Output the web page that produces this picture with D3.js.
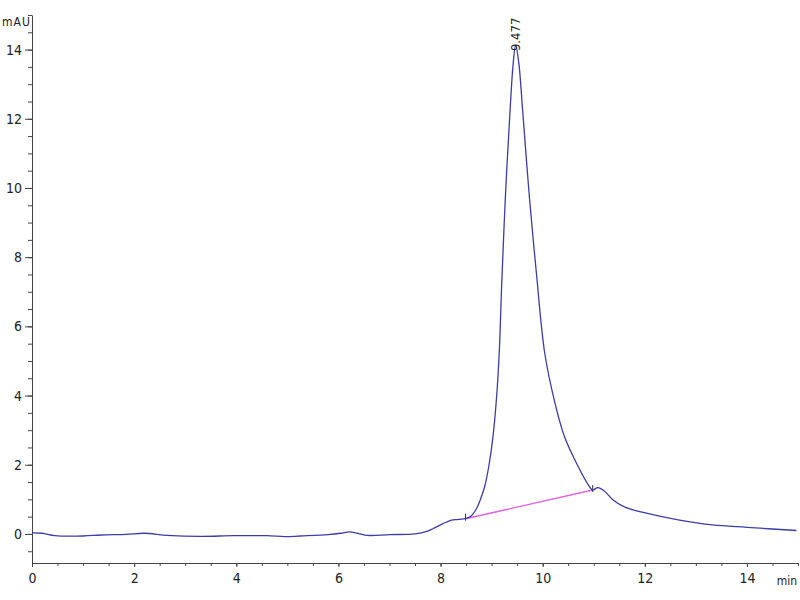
<!DOCTYPE html>
<html>
<head>
<meta charset="utf-8">
<script src="https://cdn.jsdelivr.net/npm/d3@7"></script>
<style>
  body { margin: 0; background: #fff; }
  svg { display: block; }
  .axis text { font-family: "Liberation Sans Narrow", "DejaVu Sans Condensed", "Arial Narrow", sans-serif; font-size: 14px; fill: #222; }
  .axis path, .axis line { stroke: #444; }
</style>
</head>
<body>
<div id="chart"></div>
<script>
// signal trace (min, mAU)
const times = [0, 0.2, 0.45, 1.0, 1.35, 1.85, 2.2, 2.65, 3.3, 3.95, 4.6, 4.95, 5.25, 5.8, 6.05, 6.23, 6.55, 7.0, 7.5,
  7.7, 7.85, 8.05, 8.2, 8.35, 8.5, 8.6, 8.7, 8.77, 8.87, 8.95, 9.03, 9.1, 9.15, 9.2, 9.27, 9.36, 9.42, 9.47,
  9.53, 9.61, 9.74, 9.88, 10.04, 10.24, 10.43, 10.66, 10.92, 10.98, 11.08, 11.2, 11.38, 11.6, 12.03, 12.68,
  13.33, 14.0, 14.97];
const values = [0.03, 0.02, -0.05, -0.06, -0.03, -0.01, 0.02, -0.04, -0.07, -0.05, -0.05, -0.08, -0.06, -0.02, 0.02, 0.06, -0.04, -0.02, 0.0,
  0.06, 0.15, 0.3, 0.39, 0.42, 0.45, 0.52, 0.72, 0.95, 1.4, 2.0, 2.85, 4.0, 5.25, 7.3, 9.74, 12.2, 13.55, 14.13,
  13.65, 12.2, 9.74, 7.5, 5.23, 3.79, 2.8, 2.05, 1.36, 1.27, 1.34, 1.25, 0.98, 0.78, 0.6, 0.4,
  0.26, 0.19, 0.1];

// integration baseline
const baselineTimes = [8.49, 10.98];
const baselineValues = [0.44, 1.27];

const peakTime = 9.477;
const peakValue = 14.13;
const peakLabel = "9.477";

const xTicks = [0, 2, 4, 6, 8, 10, 12, 14];
const yTicks = [0, 2, 4, 6, 8, 10, 12, 14];

const width = 800, height = 600;
const margin = { top: 15, right: 2, bottom: 37, left: 32 };

const svg = d3.select("#chart").append("svg")
  .attr("width", width)
  .attr("height", height);

const x = d3.scaleLinear()
  .domain([0, 15])
  .range([margin.left, width - margin.right]);

const y = d3.scaleLinear()
  .domain([-0.84, 15])
  .range([height - margin.bottom, margin.top]);

// minor ticks
const xMinor = d3.range(0, 15.01, 0.5);
const yMinor = d3.range(-0.5, 15.01, 0.5);

svg.append("g")
  .attr("class", "axis")
  .attr("transform", `translate(0,${height - margin.bottom})`)
  .call(d3.axisBottom(x).tickValues(xMinor).tickSize(3).tickFormat(""))
  .call(g => g.select(".domain").remove());

svg.append("g")
  .attr("class", "axis x-axis")
  .attr("transform", `translate(0,${height - margin.bottom})`)
  .call(d3.axisBottom(x).tickValues(xTicks).tickSize(4).tickSizeOuter(0).tickPadding(6).tickFormat(d3.format("d")));

svg.append("g")
  .attr("class", "axis")
  .attr("transform", `translate(${margin.left},0)`)
  .call(d3.axisLeft(y).tickValues(yMinor).tickSize(4).tickFormat(""))
  .call(g => g.select(".domain").remove());

svg.append("g")
  .attr("class", "axis y-axis")
  .attr("transform", `translate(${margin.left},0)`)
  .call(d3.axisLeft(y).tickValues(yTicks).tickSize(7).tickSizeOuter(0).tickPadding(3).tickFormat(d3.format("d")));

// axis unit labels
svg.append("text")
  .attr("x", 2)
  .attr("y", 26)
  .attr("font-family", "'Liberation Sans Narrow', 'DejaVu Sans Condensed', sans-serif")
  .attr("font-size", 12)
  .attr("letter-spacing", 1)
  .attr("fill", "#222")
  .text("mAU");

svg.append("text")
  .attr("x", 797)
  .attr("y", 585)
  .attr("text-anchor", "end")
  .attr("font-family", "'Liberation Sans Narrow', 'DejaVu Sans Condensed', sans-serif")
  .attr("font-size", 12)
  .attr("fill", "#222")
  .text("min");

const points = times.map((t, i) => [t, values[i]]);

const line = d3.line()
  .x(d => x(d[0]))
  .y(d => y(d[1]))
  .curve(d3.curveCatmullRom.alpha(0.5));

// baseline
const bl = baselineTimes.map((t, i) => [t, baselineValues[i]]);
svg.append("path")
  .datum(bl)
  .attr("fill", "none")
  .attr("stroke", "#e060e0")
  .attr("stroke-width", 1.4)
  .attr("d", d3.line().x(d => x(d[0])).y(d => y(d[1])));

svg.selectAll("line.bl-mark")
  .data(bl)
  .join("line")
  .attr("class", "bl-mark")
  .attr("x1", d => x(d[0]))
  .attr("x2", d => x(d[0]))
  .attr("y1", d => y(d[1]) - 5)
  .attr("y2", d => y(d[1]) + 2)
  .attr("stroke", "#333")
  .attr("stroke-width", 1);

svg.append("path")
  .datum(points)
  .attr("fill", "none")
  .attr("stroke", "#3d3da6")
  .attr("stroke-width", 1.3)
  .attr("d", line);

// peak retention time label
svg.append("text")
  .attr("transform", `translate(${x(peakTime) + 4},${y(peakValue) + 6}) rotate(-90)`)
  .attr("font-family", "'Liberation Sans Narrow', 'DejaVu Sans Condensed', sans-serif")
  .attr("font-size", 13)
  .attr("fill", "#222")
  .text(peakLabel);
</script>
</body>
</html>
